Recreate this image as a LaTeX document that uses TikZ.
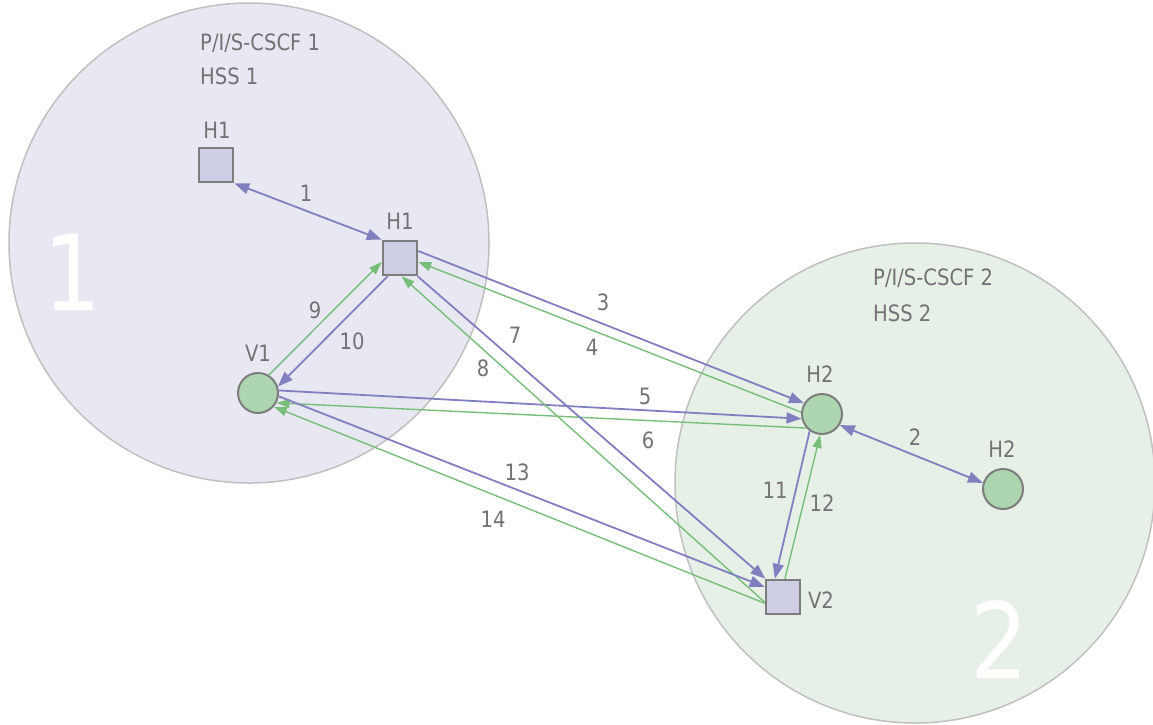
\documentclass[tikz,border=0pt]{standalone}
\usepackage{fontspec}
\setmainfont{DejaVu Sans}[FakeStretch=0.87]
\usetikzlibrary{arrows.meta}
\definecolor{bluel}{RGB}{128,128,192}
\definecolor{greenl}{RGB}{120,190,122}
\definecolor{regA}{RGB}{232,232,243}
\definecolor{regB}{RGB}{230,240,231}
\definecolor{regline}{RGB}{192,192,192}
\definecolor{sqfill}{RGB}{205,205,227}
\definecolor{cfill}{RGB}{172,213,176}
\definecolor{nodeline}{RGB}{125,125,125}
\definecolor{txt}{RGB}{115,115,115}
\begin{document}
\begin{tikzpicture}[x=1pt,y=-1pt,
  region/.style={circle, draw=regline, line width=1.5pt, minimum size=480pt, inner sep=0pt},
  sq/.style={rectangle, draw=nodeline, line width=2.5pt, fill=sqfill, minimum size=34pt, inner sep=0pt},
  rnd/.style={circle, draw=nodeline, line width=2pt, fill=cfill, minimum size=40pt, inner sep=0pt},
  lbl/.style={text=txt, font=\fontsize{22.5}{22.5}\selectfont, inner sep=0pt},
  big/.style={text=white, font=\fontsize{105}{105}\selectfont, inner sep=0pt},
  bl/.style={draw=bluel, line width=1.8pt, -{Triangle[length=15pt,width=11pt]}},
  bl2/.style={draw=bluel, line width=1.8pt, {Triangle[length=15pt,width=11pt]}-{Triangle[length=15pt,width=11pt]}},
  gr/.style={draw=greenl, line width=1.4pt, -{Triangle[length=13pt,width=9pt]}}
]
\useasboundingbox (0,0) rectangle (1153,724);
% regions
\node[region, fill=regA] (R1) at (249,243) {};
\node[region, fill=regB] (R2) at (915,483) {};
\node[big] (B1) at (73,272) {1};
\node[big] (B2) at (1000,640) {2};
\node[lbl, anchor=west] (T1a) at (200,43) {P/I/S-CSCF 1};
\node[lbl, anchor=west] (T1b) at (200,76) {HSS 1};
\node[lbl, anchor=west] (T2a) at (873,278) {P/I/S-CSCF 2};
\node[lbl, anchor=west] (T2b) at (873,313) {HSS 2};
% nodes
\node[sq] (H1a) at (216,165) {};
\node[sq] (H1b) at (400,258) {};
\node[rnd] (V1) at (258,393) {};
\node[rnd] (H2a) at (822,414) {};
\node[rnd] (H2b) at (1003,489) {};
\node[sq] (V2) at (783,597) {};
\node[lbl] (nH1a) at (217,130) {H1};
\node[lbl] (nH1b) at (400,221) {H1};
\node[lbl] (nV1) at (258,353) {V1};
\node[lbl] (nH2a) at (820,374) {H2};
\node[lbl] (nH2b) at (1002,449) {H2};
\node[lbl] (nV2) at (821,600) {V2};
% connectors
\draw[bl2] (H1a.-45) -- (H1b.135);
\draw[bl2] (H2a.-32) -- (H2b.163);
\draw[bl] (H1b.21) -- (H2a.149);
\draw[gr] (H2a.175) -- (H1b.-12);
\draw[bl] (V1.7) -- (H2a.-167);
\draw[gr] (H2a.222) -- (V1.-28);
\draw[bl] (H1b.-46) -- (V2.134);
\draw[gr] (V2.-164) -- (H1b.-85);
\draw[gr] (V1.59) -- (H1b.-168);
\draw[bl] (H1b.-124) -- (V1.18);
\draw[bl] (H2a.-126) -- (V2.114);
\draw[gr] (V2.84) -- (H2a.-95);
\draw[bl] (V1.-9) -- (V2.151);
\draw[gr] (V2.-161) -- (V1.-41);
% labels
\node[lbl] (l1) at (306,193) {1};
\node[lbl] (l2) at (915,437) {2};
\node[lbl] (l3) at (603,302) {3};
\node[lbl] (l4) at (592,347) {4};
\node[lbl] (l5) at (645,396) {5};
\node[lbl] (l6) at (648,440) {6};
\node[lbl] (l7) at (515,335) {7};
\node[lbl] (l8) at (483,368) {8};
\node[lbl] (l9) at (315,310) {9};
\node[lbl] (l10) at (352,341) {10};
\node[lbl] (l11) at (775,490) {11};
\node[lbl] (l12) at (822,503) {12};
\node[lbl] (l13) at (517,472) {13};
\node[lbl] (l14) at (493,519) {14};
\end{tikzpicture}
\end{document}
